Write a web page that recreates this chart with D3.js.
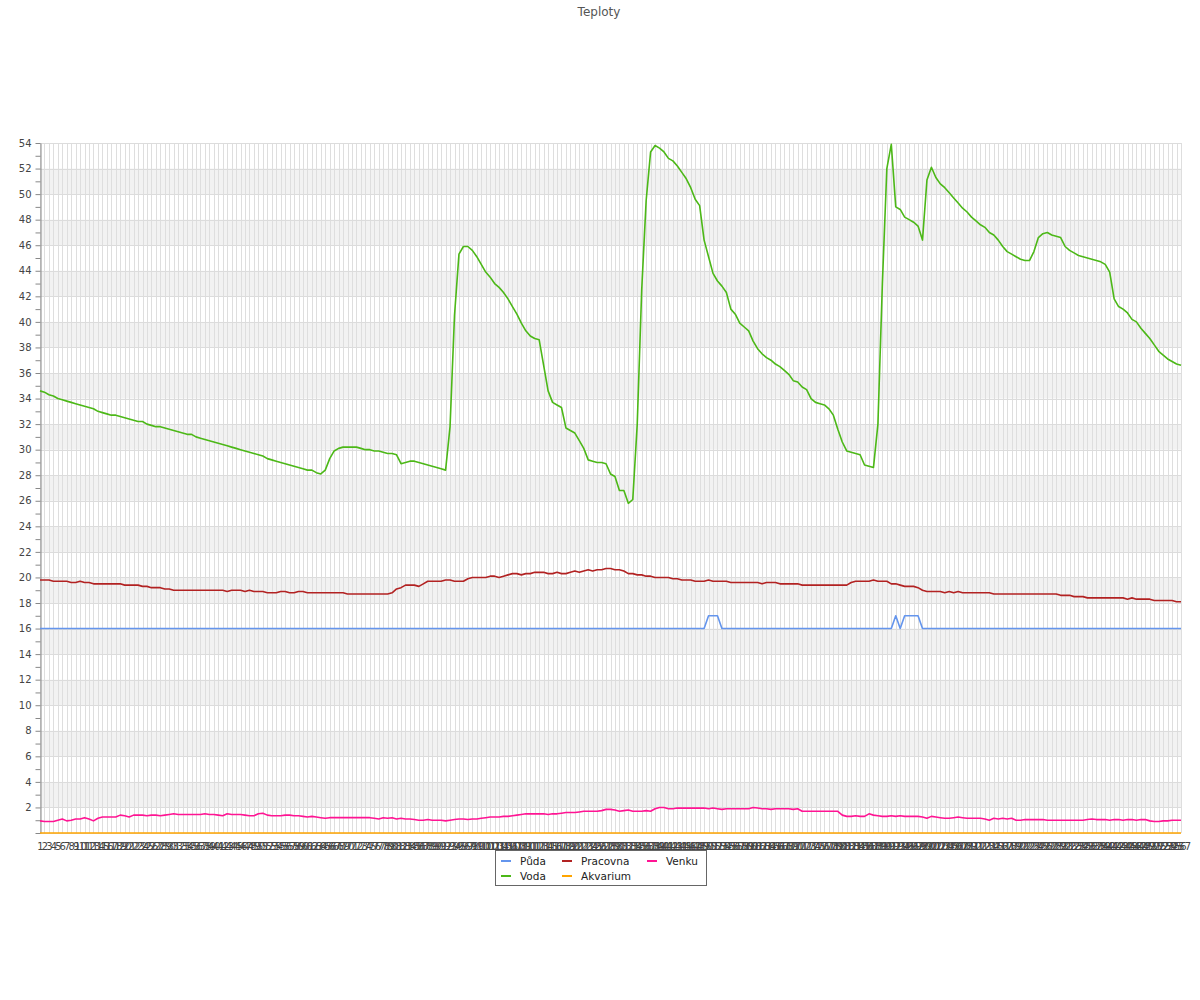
<!DOCTYPE html>
<html><head><meta charset="utf-8">
<script src="https://cdn.jsdelivr.net/npm/d3@7"></script>
<style>body{margin:0;background:#fff;} text{font-family:"DejaVu Sans",sans-serif;}</style>
</head><body><svg id="c" width="1200" height="1000"></svg>
<script>
const title = "Teploty";
const categories = d3.range(1, 258).map(String);
const seriesNames = ["Půda", "Voda", "Pracovna", "Akvarium", "Venku"];
const seriesColors = ["#6495ed", "#4cb817", "#b22222", "#ffa500", "#ff1493"];
const yTicks = [0,2,4,6,8,10,12,14,16,18,20,22,24,26,28,30,32,34,36,38,40,42,44,46,48,50,52,54];
const yMinorTicks = [1,3,5,7,9,11,13,15,17,19,21,23,25,27,29,31,33,35,37,39,41,43,45,47,49,51,53];

const puda = [
16,16,16,16,16,16,16,16,16,16, 16,16,16,16,16,16,16,16,16,16,
16,16,16,16,16,16,16,16,16,16, 16,16,16,16,16,16,16,16,16,16,
16,16,16,16,16,16,16,16,16,16, 16,16,16,16,16,16,16,16,16,16,
16,16,16,16,16,16,16,16,16,16, 16,16,16,16,16,16,16,16,16,16,
16,16,16,16,16,16,16,16,16,16, 16,16,16,16,16,16,16,16,16,16,
16,16,16,16,16,16,16,16,16,16, 16,16,16,16,16,16,16,16,16,16,
16,16,16,16,16,16,16,16,16,16, 16,16,16,16,16,16,16,16,16,16,
16,16,16,16,16,16,16,16,16,16, 17,17,17,16,16,16,16,16,16,16,
16,16,16,16,16,16,16,16,16,16, 16,16,16,16,16,16,16,16,16,16,
16,16,16,16,16,16,16,16,16,16, 16,16,17,16,17,17,17,17,16,16,
16,16,16,16,16,16,16,16,16,16, 16,16,16,16,16,16,16,16,16,16,
16,16,16,16,16,16,16,16,16,16, 16,16,16,16,16,16,16,16,16,16,
16,16,16,16,16,16,16,16,16,16, 16,16,16,16,16,16,16];

const voda = [
34.6,34.5,34.3,34.2,34.0,33.9,33.8,33.7,33.6,33.5,
33.4,33.3,33.2,33.0,32.9,32.8,32.7,32.7,32.6,32.5,
32.4,32.3,32.2,32.2,32.0,31.9,31.8,31.8,31.7,31.6,
31.5,31.4,31.3,31.2,31.2,31.0,30.9,30.8,30.7,30.6,
30.5,30.4,30.3,30.2,30.1,30.0,29.9,29.8,29.7,29.6,
29.5,29.3,29.2,29.1,29.0,28.9,28.8,28.7,28.6,28.5,
28.4,28.4,28.2,28.1,28.4,29.3,29.9,30.1,30.2,30.2,
30.2,30.2,30.1,30.0,30.0,29.9,29.9,29.8,29.7,29.7,
29.6,28.9,29.0,29.1,29.1,29.0,28.9,28.8,28.7,28.6,
28.5,28.4,31.8,40.5,45.3,45.9,45.9,45.6,45.1,44.5,
43.9,43.5,43.0,42.7,42.3,41.8,41.2,40.6,39.9,39.3,
38.9,38.7,38.6,36.6,34.6,33.7,33.5,33.3,31.7,31.5,
31.3,30.7,30.1,29.2,29.1,29.0,29.0,28.9,28.1,27.9,
26.8,26.8,25.8,26.1,32.0,42.5,49.5,53.3,53.8,53.6,
53.3,52.8,52.6,52.2,51.7,51.2,50.5,49.6,49.1,46.4,
45.1,43.8,43.2,42.8,42.3,41.0,40.6,39.9,39.6,39.3,
38.5,37.9,37.5,37.2,37.0,36.7,36.5,36.2,35.9,35.4,
35.3,34.9,34.7,34.0,33.7,33.6,33.5,33.2,32.7,31.6,
30.6,29.9,29.8,29.7,29.6,28.8,28.7,28.6,32.0,43.0,
52.0,53.9,49.0,48.8,48.2,48.0,47.8,47.5,46.4,51.1,
52.1,51.3,50.8,50.5,50.1,49.7,49.3,48.9,48.6,48.2,
47.9,47.6,47.4,47.0,46.8,46.4,45.9,45.5,45.3,45.1,
44.9,44.8,44.8,45.5,46.6,46.9,47.0,46.8,46.7,46.6,
45.9,45.6,45.4,45.2,45.1,45.0,44.9,44.8,44.7,44.5,
43.9,41.8,41.2,41.0,40.7,40.2,40.0,39.5,39.1,38.7,
38.2,37.7,37.4,37.1,36.9,36.7,36.6];

const pracovna = [
19.8,19.8,19.8,19.7,19.7,19.7,19.7,19.6,19.6,19.7,
19.6,19.6,19.5,19.5,19.5,19.5,19.5,19.5,19.5,19.4,
19.4,19.4,19.4,19.3,19.3,19.2,19.2,19.2,19.1,19.1,
19.0,19.0,19.0,19.0,19.0,19.0,19.0,19.0,19.0,19.0,
19.0,19.0,18.9,19.0,19.0,19.0,18.9,19.0,18.9,18.9,
18.9,18.8,18.8,18.8,18.9,18.9,18.8,18.8,18.9,18.9,
18.8,18.8,18.8,18.8,18.8,18.8,18.8,18.8,18.8,18.7,
18.7,18.7,18.7,18.7,18.7,18.7,18.7,18.7,18.7,18.8,
19.1,19.2,19.4,19.4,19.4,19.3,19.5,19.7,19.7,19.7,
19.7,19.8,19.8,19.7,19.7,19.7,19.9,20.0,20.0,20.0,
20.0,20.1,20.1,20.0,20.1,20.2,20.3,20.3,20.2,20.3,
20.3,20.4,20.4,20.4,20.3,20.3,20.4,20.3,20.3,20.4,
20.5,20.4,20.5,20.6,20.5,20.6,20.6,20.7,20.7,20.6,
20.6,20.5,20.3,20.3,20.2,20.2,20.1,20.1,20.0,20.0,
20.0,20.0,19.9,19.9,19.8,19.8,19.8,19.7,19.7,19.7,
19.8,19.7,19.7,19.7,19.7,19.6,19.6,19.6,19.6,19.6,
19.6,19.6,19.5,19.6,19.6,19.6,19.5,19.5,19.5,19.5,
19.5,19.4,19.4,19.4,19.4,19.4,19.4,19.4,19.4,19.4,
19.4,19.4,19.6,19.7,19.7,19.7,19.7,19.8,19.7,19.7,
19.7,19.5,19.5,19.4,19.3,19.3,19.3,19.2,19.0,18.9,
18.9,18.9,18.9,18.8,18.9,18.8,18.9,18.8,18.8,18.8,
18.8,18.8,18.8,18.8,18.7,18.7,18.7,18.7,18.7,18.7,
18.7,18.7,18.7,18.7,18.7,18.7,18.7,18.7,18.7,18.6,
18.6,18.6,18.5,18.5,18.5,18.4,18.4,18.4,18.4,18.4,
18.4,18.4,18.4,18.4,18.3,18.4,18.3,18.3,18.3,18.3,
18.2,18.2,18.2,18.2,18.2,18.1,18.1];

const akvarium = [
0,0,0,0,0,0,0,0,0,0, 0,0,0,0,0,0,0,0,0,0, 0,0,0,0,0,0,0,0,0,0, 0,0,0,0,0,0,0,0,0,0,
0,0,0,0,0,0,0,0,0,0, 0,0,0,0,0,0,0,0,0,0, 0,0,0,0,0,0,0,0,0,0, 0,0,0,0,0,0,0,0,0,0,
0,0,0,0,0,0,0,0,0,0, 0,0,0,0,0,0,0,0,0,0, 0,0,0,0,0,0,0,0,0,0, 0,0,0,0,0,0,0,0,0,0,
0,0,0,0,0,0,0,0,0,0, 0,0,0,0,0,0,0,0,0,0, 0,0,0,0,0,0,0,0,0,0, 0,0,0,0,0,0,0,0,0,0,
0,0,0,0,0,0,0,0,0,0, 0,0,0,0,0,0,0,0,0,0, 0,0,0,0,0,0,0,0,0,0, 0,0,0,0,0,0,0,0,0,0,
0,0,0,0,0,0,0,0,0,0, 0,0,0,0,0,0,0,0,0,0, 0,0,0,0,0,0,0,0,0,0, 0,0,0,0,0,0,0,0,0,0,
0,0,0,0,0,0,0,0,0,0, 0,0,0,0,0,0,0];

const venku = [
0.95,0.9,0.9,0.9,1.0,1.1,0.95,1.0,1.1,1.1,
1.2,1.1,0.95,1.15,1.25,1.25,1.25,1.25,1.4,1.35,
1.25,1.4,1.4,1.4,1.35,1.4,1.4,1.35,1.4,1.45,
1.5,1.45,1.45,1.45,1.45,1.45,1.45,1.5,1.45,1.45,
1.4,1.35,1.5,1.45,1.45,1.45,1.4,1.35,1.35,1.5,
1.55,1.4,1.35,1.35,1.35,1.4,1.4,1.35,1.35,1.3,
1.25,1.3,1.25,1.2,1.15,1.2,1.2,1.2,1.2,1.2,
1.2,1.2,1.2,1.2,1.2,1.15,1.1,1.2,1.15,1.2,
1.1,1.15,1.1,1.1,1.05,1.0,1.0,1.05,1.0,1.0,
1.0,0.95,1.0,1.05,1.1,1.1,1.05,1.1,1.1,1.15,
1.2,1.25,1.25,1.25,1.3,1.3,1.35,1.4,1.45,1.5,
1.5,1.5,1.5,1.5,1.45,1.5,1.5,1.55,1.6,1.6,
1.6,1.65,1.7,1.7,1.7,1.7,1.75,1.85,1.85,1.8,
1.7,1.75,1.8,1.7,1.7,1.7,1.75,1.7,1.9,2.0,
2.0,1.9,1.9,1.95,1.95,1.95,1.95,1.95,1.95,1.95,
1.9,1.95,1.9,1.85,1.9,1.9,1.9,1.9,1.9,1.9,
2.0,1.95,1.9,1.9,1.85,1.9,1.9,1.9,1.9,1.85,
1.9,1.7,1.7,1.7,1.7,1.7,1.7,1.7,1.7,1.7,
1.4,1.3,1.3,1.35,1.3,1.3,1.5,1.4,1.35,1.3,
1.3,1.35,1.3,1.35,1.3,1.3,1.3,1.3,1.25,1.15,
1.3,1.25,1.2,1.15,1.15,1.2,1.25,1.2,1.15,1.15,
1.15,1.15,1.1,1.0,1.15,1.1,1.15,1.1,1.15,1.0,
1.0,1.05,1.05,1.05,1.05,1.05,1.0,1.0,1.0,1.0,
1.0,1.0,1.0,1.0,1.0,1.05,1.1,1.05,1.05,1.05,
1.0,1.05,1.05,1.0,1.05,1.05,1.0,1.05,1.05,0.95,
0.9,0.9,0.95,0.95,1.0,1.0,1.0];

const seriesValues = [puda, voda, pracovna, akvarium, venku];

const svg = d3.select("#c");
const plotLeft = 40, plotRight = 1181, plotTop = 143, plotBottom = 833;
const x = d3.scalePoint().domain(categories).range([plotLeft, plotRight]);
const y = d3.scaleLinear().domain([0, 54]).range([plotBottom, plotTop]);

// title
svg.append("text").attr("x", 599).attr("y", 16).attr("text-anchor", "middle")
  .attr("font-size", 12).attr("fill", "#555").text(title);

// bands
const g = svg.append("g");
g.selectAll("rect.band").data(yTicks.filter(v => v % 4 === 2 && v < 54)).enter()
  .append("rect").attr("class", "band")
  .attr("x", plotLeft).attr("width", plotRight - plotLeft)
  .attr("y", d => y(d + 2)).attr("height", d => y(d) - y(d + 2))
  .attr("fill", "#f2f2f2");

// vertical grid
g.selectAll("line.vg").data(categories).enter().append("line")
  .attr("x1", d => Math.round(x(d)) + 0.5).attr("x2", d => Math.round(x(d)) + 0.5)
  .attr("y1", plotTop).attr("y2", plotBottom)
  .attr("stroke", "#dedede").attr("stroke-width", 1);

// horizontal grid
g.selectAll("line.hg").data(yTicks).enter().append("line")
  .attr("x1", plotLeft).attr("x2", plotRight)
  .attr("y1", d => Math.round(y(d)) + 0.5).attr("y2", d => Math.round(y(d)) + 0.5)
  .attr("stroke", "#dcdcdc").attr("stroke-width", 1);

// y axis
const yAxis = d3.axisLeft(y)
  .tickValues(yTicks.concat(yMinorTicks).sort((a, b) => a - b))
  .tickFormat(d => (d % 2 === 0 && d !== 0) ? String(d) : "")
  .tickSize(5).tickSizeOuter(0).tickPadding(4);
const ya = svg.append("g").attr("transform", `translate(${plotLeft + 0.5},0)`).call(yAxis);
ya.select(".domain").attr("stroke", "#888");
ya.selectAll(".tick line").attr("stroke", "#888");
ya.selectAll(".tick text").attr("fill", "#444").attr("font-size", 10)
  .attr("font-family", "DejaVu Sans");

// x axis labels
const xAxis = d3.axisBottom(x).tickSize(0).tickPadding(10);
const xa = svg.append("g").attr("transform", `translate(0,${plotBottom})`).call(xAxis);
xa.select(".domain").remove();
xa.selectAll(".tick text").attr("fill", "#444").attr("font-size", 10)
  .attr("font-family", "DejaVu Sans");

// lines
const line = d3.line().x((d, i) => x(categories[i])).y(d => y(d));
seriesValues.forEach((vals, k) => {
  svg.append("path").datum(vals).attr("d", line)
    .attr("fill", "none").attr("stroke", seriesColors[k])
    .attr("stroke-width", 1.6).attr("stroke-linejoin", "round");
});

// legend
const lg = svg.append("g");
lg.append("rect").attr("x", 495.5).attr("y", 850.5).attr("width", 211).attr("height", 35)
  .attr("fill", "#fff").attr("stroke", "#666");
const colX = [501, 562, 647];
const rowY = [861, 876];
seriesNames.forEach((name, k) => {
  const cx = colX[Math.floor(k / 2)], cy = rowY[k % 2];
  lg.append("line").attr("x1", cx).attr("x2", cx + 10).attr("y1", cy).attr("y2", cy)
    .attr("stroke", seriesColors[k]).attr("stroke-width", 2);
  lg.append("text").attr("x", cx + 19).attr("y", cy + 3.5).attr("font-size", 10.5)
    .attr("fill", "#222").text(name);
});
</script></body></html>
